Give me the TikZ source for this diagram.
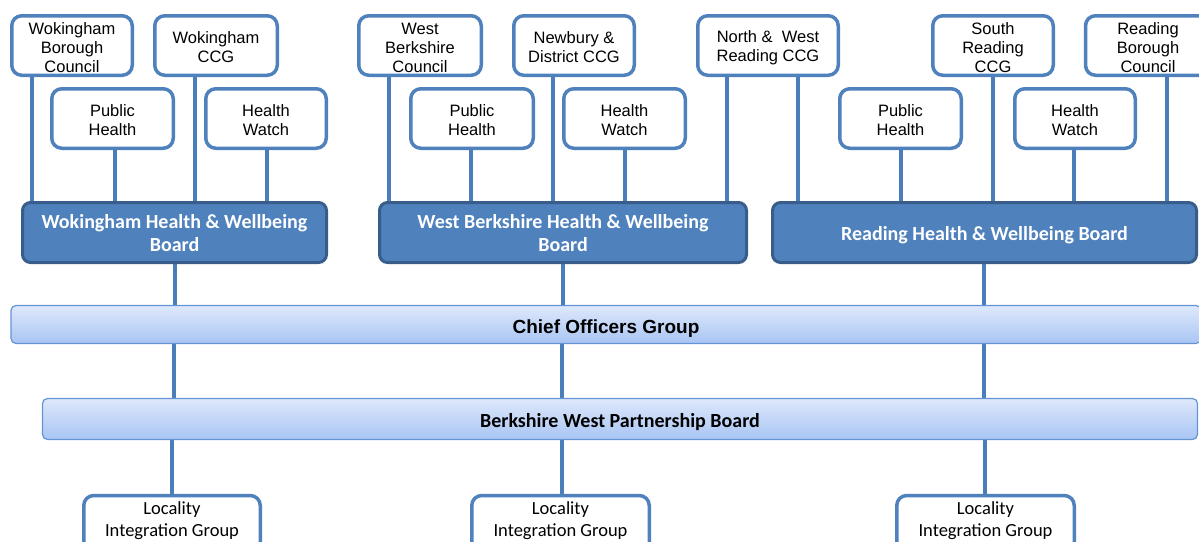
\documentclass[tikz,border=0pt]{standalone}
\usepackage{fontspec}
\setmainfont{Liberation Sans}
\newfontfamily\cali{Carlito}
\usetikzlibrary{backgrounds}
\definecolor{boxblue}{RGB}{79,129,189}
\definecolor{lineblue}{RGB}{74,126,187}
\definecolor{boardfill}{RGB}{79,129,189}
\definecolor{boardborder}{RGB}{56,93,138}
\definecolor{bartop}{RGB}{222,232,251}
\definecolor{barbot}{RGB}{168,197,244}
\definecolor{barborder}{RGB}{100,148,212}
\newcommand{\tstrut}{\rule{0pt}{16pt}}
\newcommand{\bstrut}{\rule{0pt}{14.5pt}}
\newcommand{\rstrut}{\rule{0pt}{18.5pt}}
\begin{document}
\begin{tikzpicture}[x=1pt,y=-1pt,
  topbox/.style={draw=boxblue, line width=3.5pt, fill=white, rounded corners=10pt,
    minimum height=59.5pt, inner sep=0pt, align=center,
    font=\fontsize{16.5}{19}\selectfont},
  board/.style={draw=boardborder, line width=3pt, fill=boardfill, rounded corners=8pt,
    minimum height=60pt, inner sep=0pt, align=center, text=white,
    font=\cali\bfseries\fontsize{20}{23}\selectfont},
  bar/.style={draw=barborder, line width=1.2pt, top color=bartop, bottom color=barbot,
    rounded corners=5pt, inner sep=0pt},
  locbox/.style={draw=boxblue, line width=3.5pt, fill=white, rounded corners=10pt,
    minimum height=80pt, inner sep=0pt, anchor=north},
  loctext/.style={align=center, inner sep=0pt, anchor=north,
    font=\cali\fontsize{18.5}{22}\selectfont},
  conn/.style={draw=lineblue, line width=4pt}
]
\useasboundingbox (0,0) rectangle (1199,541);
\clip (0,0) rectangle (1199,541);

% top row
\node[topbox, minimum width=120.5pt] (wbc) at (72,45.5) {\tstrut Wokingham\\Borough\\Council};
\node[topbox, minimum width=122.5pt] (wccg) at (216,45.5) {\tstrut Wokingham\\CCG};
\node[topbox, minimum width=122.5pt] (wbk) at (420,45.5) {\tstrut West\\Berkshire\\Council};
\node[topbox, minimum width=120.5pt] (nccg) at (574,45.5) {\tstrut Newbury \&\\District CCG};
\node[topbox, minimum width=140.5pt] (nwr) at (768,45.5) {\tstrut North \&\ \ West\\Reading CCG};
\node[topbox, minimum width=120.5pt] (srccg) at (993,45.5) {\tstrut South\\Reading\\CCG};
\node[topbox, minimum width=125pt] (rbc) at (1148,45.5) {\tstrut Reading\\Borough\\Council};

% second row
\node[topbox, minimum width=121.5pt] (wph) at (112.5,118.5) {\tstrut Public\\Health};
\node[topbox, minimum width=120.5pt] (whw) at (266,118.5) {\tstrut Health\\Watch};
\node[topbox, minimum width=122.5pt] (bph) at (472,118.5) {\tstrut Public\\Health};
\node[topbox, minimum width=121.5pt] (bhw) at (624.5,118.5) {\tstrut Health\\Watch};
\node[topbox, minimum width=121.5pt] (rph) at (900.5,118.5) {\tstrut Public\\Health};
\node[topbox, minimum width=120.5pt] (rhw) at (1075,118.5) {\tstrut Health\\Watch};

% boards
\node[board, minimum width=304pt] (wb) at (174.5,232.5) {\bstrut Wokingham Health \& Wellbeing\\Board};
\node[board, minimum width=367pt] (bb) at (563,232.5) {\bstrut West Berkshire Health \& Wellbeing\\Board};
\node[board, minimum width=424pt] (rb) at (984.5,232.5) {\rstrut Reading Health \& Wellbeing Board};

% bars
\node[bar, minimum width=1190pt, minimum height=38pt, text height=17pt, text depth=0pt,
  font=\bfseries\fontsize{19}{22}\selectfont] (cog) at (606,324.5) {Chief Officers Group};
\node[bar, minimum width=1155pt, minimum height=41pt, text height=16pt, text depth=0pt,
  font=\cali\bfseries\fontsize{20}{22}\selectfont] (bwpb) at (620,419) {Berkshire West Partnership Board};

% locality groups
\node[locbox, minimum width=176.5pt] (l1) at (172,493.75) {};
\node[locbox, minimum width=177.5pt] (l2) at (560.5,493.75) {};
\node[locbox, minimum width=177.5pt] (l3) at (985.5,493.75) {};
\node[loctext] (t1) at ([yshift=-8pt]l1.north) {Locality\\Integration Group};
\node[loctext] (t2) at ([yshift=-8pt]l2.north) {Locality\\Integration Group};
\node[loctext] (t3) at ([yshift=-8pt]l3.north) {Locality\\Integration Group};

\begin{scope}[on background layer]
  % Wokingham
  \draw[conn] ([xshift=-40pt]wbc.south) -- ([xshift=-40pt]wbc.south |- wb.north);
  \draw[conn] ([xshift=2.5pt]wph.south) -- ([xshift=2.5pt]wph.south |- wb.north);
  \draw[conn] ([xshift=-21pt]wccg.south) -- ([xshift=-21pt]wccg.south |- wb.north);
  \draw[conn] ([xshift=1pt]whw.south) -- ([xshift=1pt]whw.south |- wb.north);
  % West Berkshire
  \draw[conn] ([xshift=-31pt]wbk.south) -- ([xshift=-31pt]wbk.south |- bb.north);
  \draw[conn] ([xshift=-1pt]bph.south) -- ([xshift=-1pt]bph.south |- bb.north);
  \draw[conn] ([xshift=-21pt]nccg.south) -- ([xshift=-21pt]nccg.south |- bb.north);
  \draw[conn] (bhw.south) -- (bhw.south |- bb.north);
  \draw[conn] ([xshift=-41pt]nwr.south) -- ([xshift=-41pt]nwr.south |- bb.north);
  % Reading
  \draw[conn] ([xshift=30pt]nwr.south) -- ([xshift=30pt]nwr.south |- rb.north);
  \draw[conn] (rph.south) -- (rph.south |- rb.north);
  \draw[conn] (srccg.south) -- (srccg.south |- rb.north);
  \draw[conn] ([xshift=-1pt]rhw.south) -- ([xshift=-1pt]rhw.south |- rb.north);
  \draw[conn] ([xshift=19pt]rbc.south) -- ([xshift=19pt]rbc.south |- rb.north);
  % boards to bars to localities
  \draw[conn] (wb.south) -- (wb.south |- cog.north);
  \draw[conn] ([xshift=-1pt]wb.south |- cog.south) -- ([xshift=-1pt]wb.south |- bwpb.north);
  \draw[conn] (l1.north |- bwpb.south) -- (l1.north);
  \draw[conn] (bb.south) -- (bb.south |- cog.north);
  \draw[conn] ([xshift=-1pt]bb.south |- cog.south) -- ([xshift=-1pt]bb.south |- bwpb.north);
  \draw[conn] ([xshift=1pt]l2.north |- bwpb.south) -- ([xshift=1pt]l2.north);
  \draw[conn] ([xshift=-0.5pt]rb.south) -- ([xshift=-0.5pt]rb.south |- cog.north);
  \draw[conn] ([xshift=-0.5pt]rb.south |- cog.south) -- ([xshift=-0.5pt]rb.south |- bwpb.north);
  \draw[conn] ([xshift=-0.5pt]l3.north |- bwpb.south) -- ([xshift=-0.5pt]l3.north);
\end{scope}
\end{tikzpicture}
\end{document}
